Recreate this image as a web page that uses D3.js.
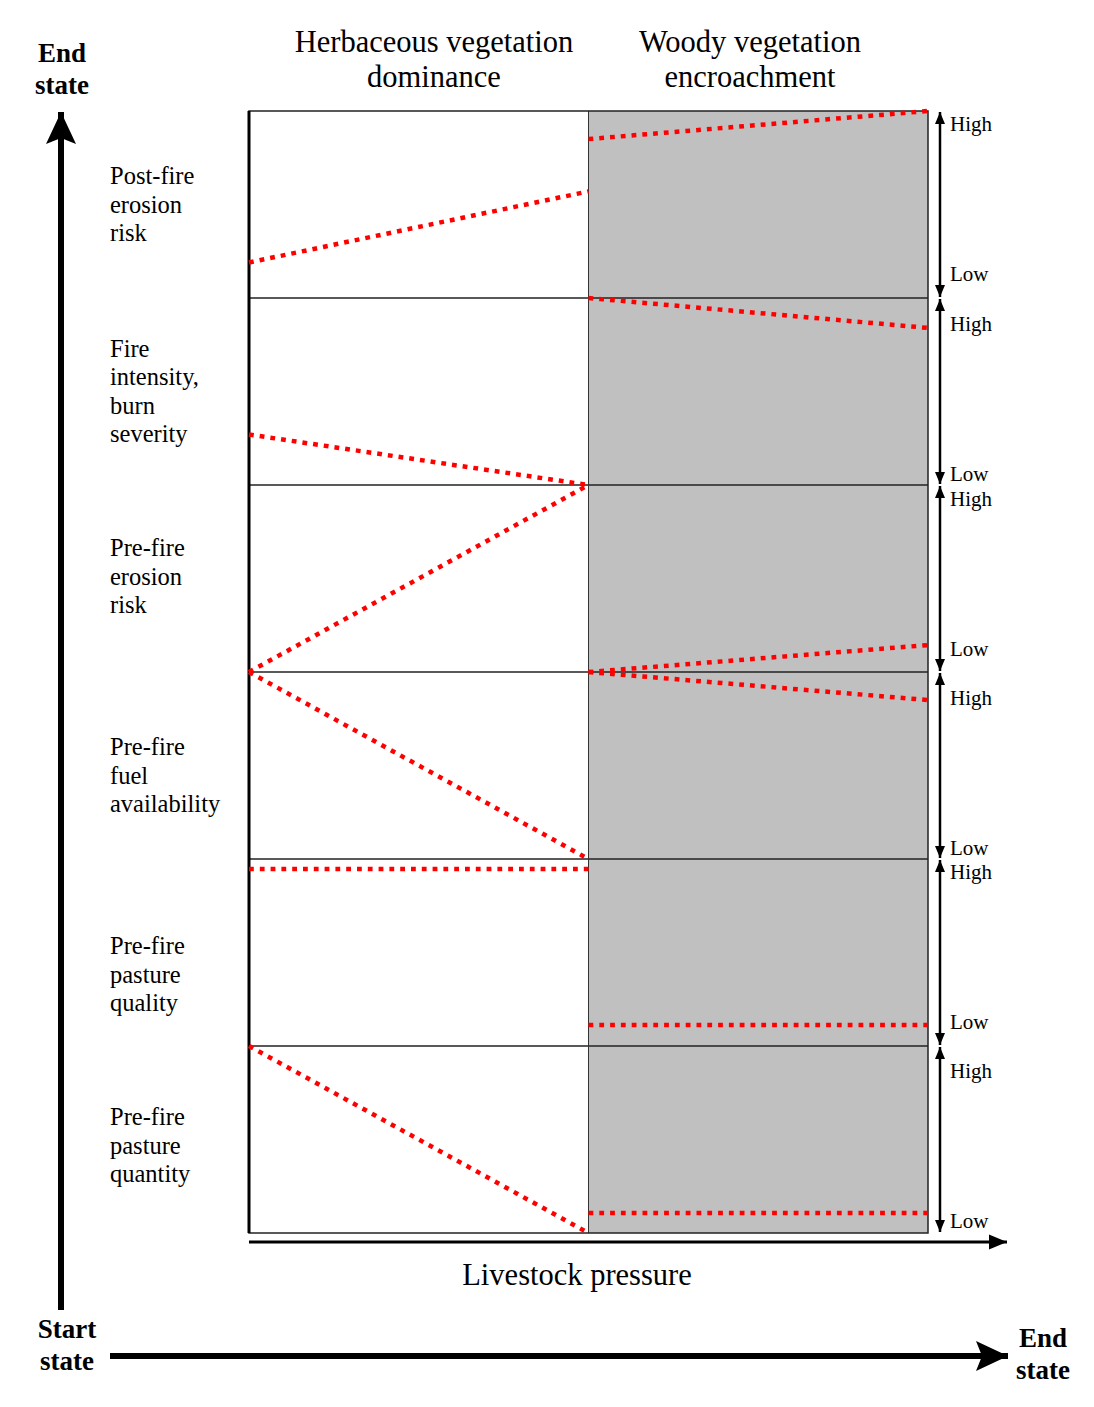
<!DOCTYPE html>
<html>
<head>
<meta charset="utf-8">
<script src="https://cdn.jsdelivr.net/npm/d3@7"></script>
<style>
  body { margin: 0; background: #fff; }
  text { font-family: "Liberation Serif", "DejaVu Serif", serif; fill: #000; }
</style>
</head>
<body>
<div id="chart"></div>
<script>

// row labels (one entry per row, "|" = line break)
var rowLabels = [
  "Post-fire|erosion|risk",
  "Fire|intensity,|burn|severity",
  "Pre-fire|erosion|risk",
  "Pre-fire|fuel|availability",
  "Pre-fire|pasture|quality",
  "Pre-fire|pasture|quantity"
];

// column headers
var columns = ["Herbaceous vegetation|dominance", "Woody vegetation|encroachment"];

// relative level in each row (0 = low, 1 = high)
// left segment: start of herbaceous phase -> end of herbaceous phase
var leftStart  = [0.19, 0.27, 0.00, 1.00, 0.947, 1.00];
var leftEnd    = [0.57, 0.00, 1.00, 0.00, 0.947, 0.00];
// right segment: start of woody phase -> end of woody phase
var rightStart = [0.85, 1.00, 0.00, 1.00, 0.112, 0.107];
var rightEnd   = [1.00, 0.84, 0.144, 0.85, 0.112, 0.107];

var highLabel = "High", lowLabel = "Low";
var xAxisLabel = "Livestock pressure";
var startLabel = "Start|state", endLabel = "End|state";

// layout
var W = 1094, H = 1407;
var panel = {left: 249, right: 928, top: 111, bottom: 1233};
var labelShift = [0, 0, -2, 10, 22, 6];      // nudges for the row labels
var highOffset = [13, 26, 14, 26, 13, 25];   // where "High" sits below the row top

var svg = d3.select("#chart").append("svg")
    .attr("width", W)
    .attr("height", H);

var x = d3.scaleLinear()
    .domain([0, 2])
    .range([panel.left, panel.right]);

var rowScale = d3.scaleBand()
    .domain(d3.range(rowLabels.length))
    .range([panel.top, panel.bottom])
    .padding(0);

function yIn(i) {
  return d3.scaleLinear()
    .domain([0, 1])
    .range([rowScale(i) + rowScale.bandwidth(), rowScale(i)]);
}

// markers
var defs = svg.append("defs");
defs.append("marker")
    .attr("id", "tri")
    .attr("viewBox", "0 0 12 11")
    .attr("refX", 12).attr("refY", 5.5)
    .attr("markerUnits", "userSpaceOnUse")
    .attr("markerWidth", 12).attr("markerHeight", 11)
    .attr("orient", "auto-start-reverse")
  .append("path")
    .attr("d", "M0,0.5 L12,5.5 L0,10.5 Z")
    .attr("fill", "#000");

defs.append("marker")
    .attr("id", "tri2")
    .attr("viewBox", "0 0 18 16")
    .attr("refX", 18).attr("refY", 8)
    .attr("markerUnits", "userSpaceOnUse")
    .attr("markerWidth", 18).attr("markerHeight", 16)
    .attr("orient", "auto")
  .append("path")
    .attr("d", "M0,0.5 L18,8 L0,15.5 Z")
    .attr("fill", "#000");

defs.append("marker")
    .attr("id", "stealth")
    .attr("viewBox", "0 0 32 32")
    .attr("refX", 32).attr("refY", 16)
    .attr("markerUnits", "userSpaceOnUse")
    .attr("markerWidth", 32).attr("markerHeight", 32)
    .attr("orient", "auto")
  .append("path")
    .attr("d", "M0,1 L32,16 L0,31 L6,16 Z")
    .attr("fill", "#000");

// grey woody half
svg.append("rect")
    .attr("x", x(1))
    .attr("y", panel.top)
    .attr("width", x(2) - x(1))
    .attr("height", panel.bottom - panel.top)
    .attr("fill", "#c0c0c0");

// row separators
svg.append("g").selectAll("line")
  .data(d3.range(1, rowLabels.length))
  .join("line")
    .attr("x1", x(0)).attr("x2", x(2))
    .attr("y1", function(d) { return rowScale(d); })
    .attr("y2", function(d) { return rowScale(d); })
    .attr("stroke", "#222")
    .attr("stroke-width", 1.3);

// middle divider
svg.append("line")
    .attr("x1", x(1)).attr("x2", x(1))
    .attr("y1", panel.top).attr("y2", panel.bottom)
    .attr("stroke", "#333")
    .attr("stroke-width", 1);

// panel frame
svg.append("rect")
    .attr("x", x(0)).attr("y", panel.top)
    .attr("width", x(2) - x(0))
    .attr("height", panel.bottom - panel.top)
    .attr("fill", "none")
    .attr("stroke", "#222")
    .attr("stroke-width", 1.5);
svg.append("line")
    .attr("x1", x(0)).attr("x2", x(0))
    .attr("y1", panel.top).attr("y2", panel.bottom)
    .attr("stroke", "#000")
    .attr("stroke-width", 3);

// red dotted trend lines
var line = d3.line()
    .x(function(d) { return x(d[0]); })
    .y(function(d) { return d[1]; });

rowLabels.forEach(function(lbl, i) {
  var y = yIn(i);
  var segs = [
    [[0, y(leftStart[i])], [1, y(leftEnd[i])]],
    [[1, y(rightStart[i])], [2, y(rightEnd[i])]]
  ];
  svg.append("g").selectAll("path")
    .data(segs)
    .join("path")
      .attr("d", line)
      .attr("fill", "none")
      .attr("stroke", "#f00")
      .attr("stroke-width", 4.5)
      .attr("stroke-dasharray", "4.8,6");
});

// High / Low scale arrows on the right
var ax = x(2) + 12;
rowLabels.forEach(function(lbl, i) {
  var top = rowScale(i), bot = rowScale(i) + rowScale.bandwidth();
  svg.append("line")
      .attr("x1", ax).attr("x2", ax)
      .attr("y1", top + 1).attr("y2", bot - 1)
      .attr("stroke", "#000")
      .attr("stroke-width", 2.5)
      .attr("marker-start", "url(#tri)")
      .attr("marker-end", "url(#tri)");
  svg.append("text")
      .attr("x", ax + 10)
      .attr("y", top + highOffset[i] + 7)
      .attr("font-size", 21)
      .text(highLabel);
  svg.append("text")
      .attr("x", ax + 10)
      .attr("y", top + highOffset[i] + 157)
      .attr("font-size", 21)
      .text(lowLabel);
});

// row labels
rowLabels.forEach(function(lbl, i) {
  var lines = lbl.split("|");
  var lh = 28.6;
  var cy = rowScale(i) + rowScale.bandwidth() / 2 + labelShift[i];
  var t = svg.append("text")
      .attr("x", 110)
      .attr("font-size", 24.5);
  lines.forEach(function(s, k) {
    t.append("tspan")
      .attr("x", 110)
      .attr("y", cy - (lines.length - 1) * lh / 2 + k * lh + 8)
      .text(s);
  });
});

// column headers
var headerX = [434, 750];
columns.forEach(function(c, j) {
  var t = svg.append("text")
      .attr("text-anchor", "middle")
      .attr("font-size", 30.5);
  c.split("|").forEach(function(s, k) {
    t.append("tspan")
      .attr("x", headerX[j])
      .attr("y", 52 + k * 35)
      .text(s);
  });
});

// livestock pressure axis
svg.append("line")
    .attr("x1", x(0)).attr("x2", 1007)
    .attr("y1", 1242).attr("y2", 1242)
    .attr("stroke", "#000")
    .attr("stroke-width", 3)
    .attr("marker-end", "url(#tri2)");
svg.append("text")
    .attr("x", 577).attr("y", 1285)
    .attr("text-anchor", "middle")
    .attr("font-size", 30.5)
    .text(xAxisLabel);

// big state arrows
svg.append("line")
    .attr("x1", 61).attr("x2", 61)
    .attr("y1", 1310).attr("y2", 112)
    .attr("stroke", "#000")
    .attr("stroke-width", 6)
    .attr("marker-end", "url(#stealth)");
svg.append("line")
    .attr("x1", 110).attr("x2", 1008)
    .attr("y1", 1356).attr("y2", 1356)
    .attr("stroke", "#000")
    .attr("stroke-width", 6)
    .attr("marker-end", "url(#stealth)");

function boldLabel(str, cx, y0) {
  var t = svg.append("text")
      .attr("text-anchor", "middle")
      .attr("font-size", 27)
      .attr("font-weight", "bold");
  str.split("|").forEach(function(s, k) {
    t.append("tspan")
      .attr("x", cx)
      .attr("y", y0 + k * 32)
      .text(s);
  });
}
boldLabel(endLabel, 62, 62);
boldLabel(startLabel, 67, 1338);
boldLabel(endLabel, 1043, 1347);

</script>
</body>
</html>
